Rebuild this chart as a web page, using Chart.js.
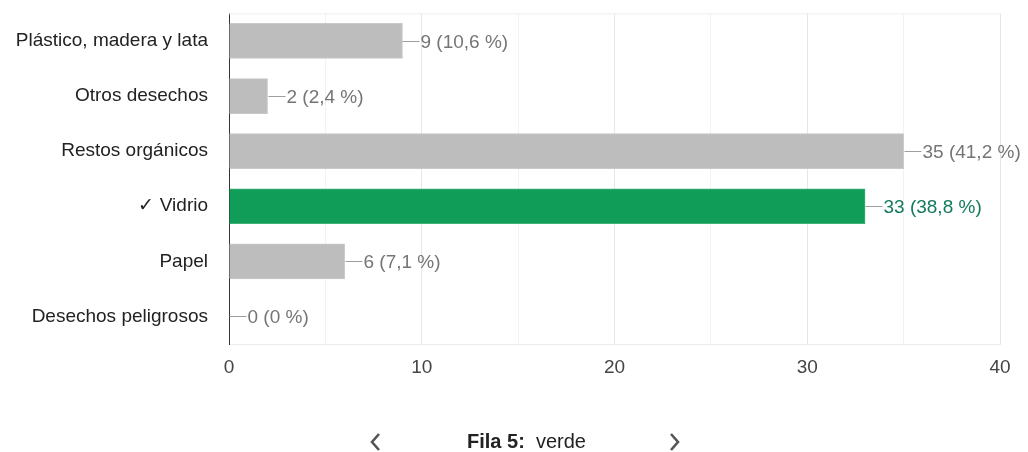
<!DOCTYPE html>
<html><head><meta charset="utf-8">
<script src="https://cdn.jsdelivr.net/npm/chart.js@4/dist/chart.umd.min.js"></script>
<style>
body{margin:0;background:#fff;font-family:"Liberation Sans",Arial,sans-serif}
#wrap{position:relative;width:1028px;height:452px;overflow:hidden}
canvas{position:absolute;left:0;top:-19px}
.nav{position:absolute;top:429px;font-size:20px;color:#222;line-height:24px;white-space:nowrap}
</style></head><body>
<div id="wrap">
<canvas id="c" width="1028" height="471"></canvas>
<svg style="position:absolute;left:367px;top:431px" width="16" height="22"><polyline points="12,3 5,11 12,19" fill="none" stroke="#555" stroke-width="2.6"/></svg>
<div class="nav" style="left:467px"><b>Fila 5:</b>&nbsp; verde</div>
<svg style="position:absolute;left:667px;top:431px" width="16" height="22"><polyline points="4,3 11,11 4,19" fill="none" stroke="#555" stroke-width="2.6"/></svg>
</div>
<script>
const categories = ["Plástico, madera y lata", "Otros desechos", "Restos orgánicos", "✓ Vidrio", "Papel", "Desechos peligrosos"];
const counts = [9, 2, 35, 33, 6, 0];
const percents = ["10,6 %", "2,4 %", "41,2 %", "38,8 %", "7,1 %", "0 %"];
const correctIndex = 3;
const xTickLabels = [0, 10, 20, 30, 40];

const GRAY = "#bdbdbd", GREEN = "#0f9d58";
const FONT = "'Liberation Sans', Arial, sans-serif";

const valueLabels = {
  id: "valueLabels",
  afterDatasetsDraw(chart) {
    const ctx = chart.ctx;
    const meta = chart.getDatasetMeta(0);
    ctx.save();
    ctx.font = "19px " + FONT;
    ctx.textBaseline = "middle";
    ctx.textAlign = "left";
    meta.data.forEach((el, i) => {
      const x = Math.round(el.x) + 0.5, y = Math.round(el.y) + 0.5;
      ctx.strokeStyle = "#9e9e9e";
      ctx.lineWidth = 1;
      ctx.beginPath(); ctx.moveTo(x, y); ctx.lineTo(x + 17, y); ctx.stroke();
      ctx.fillStyle = i === correctIndex ? "#137a5e" : "#757575";
      ctx.fillText(counts[i] + " (" + percents[i] + ")", x + 18, y + 1);
    });
    const a = chart.chartArea;
    ctx.strokeStyle = "#eeeeee";
    ctx.beginPath(); ctx.moveTo(a.left, a.top + 0.5); ctx.lineTo(a.right, a.top + 0.5); ctx.stroke();
    ctx.restore();
  }
};

new Chart(document.getElementById("c"), {
  type: "bar",
  data: {
    labels: categories,
    datasets: [{
      data: counts,
      backgroundColor: counts.map((_, i) => i === correctIndex ? GREEN : GRAY),
      borderColor: counts.map((_, i) => i === correctIndex ? "#3fb07a" : "#c9c9c9"),
      borderWidth: 1,
      borderSkipped: "start",
      barThickness: 35
    }]
  },
  options: {
    indexAxis: "y",
    responsive: false,
    animation: false,
    layout: { padding: { top: 13, right: 28, left: 0, bottom: 0 } },
    plugins: { legend: { display: false }, tooltip: { enabled: false } },
    scales: {
      x: {
        min: 0, max: 40,
        afterFit(s) { s.height = 108; },
        ticks: {
          stepSize: 5,
          autoSkip: false,
          maxRotation: 0,
          padding: 12,
          color: "#444",
          font: { size: 19, family: FONT },
          callback: v => xTickLabels.includes(v) ? String(v) : ""
        },
        grid: {
          drawTicks: false,
          color: c => c.tick.value === 0 ? "rgba(0,0,0,0)" : (c.tick.value % 10 === 0 ? "#e6e6e6" : "#f2f2f2")
        },
        border: { display: true, color: "#ebebeb" }
      },
      y: {
        afterFit(s) { s.width = 229; },
        ticks: {
          padding: 21,
          color: "#222",
          font: { size: 19, family: FONT }
        },
        grid: { display: false, drawTicks: false },
        border: { display: true, color: "#333", width: 1 }
      }
    }
  },
  plugins: [valueLabels]
});
</script>
</body></html>
